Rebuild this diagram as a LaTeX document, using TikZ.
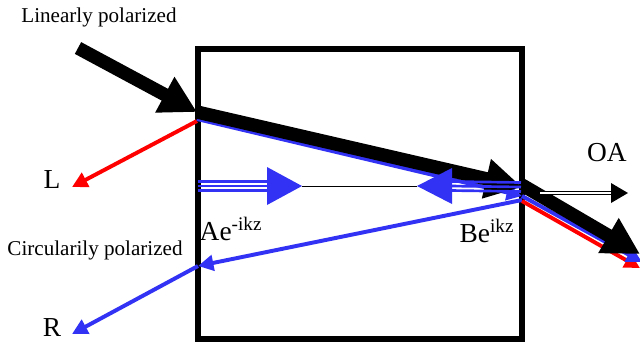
\documentclass[tikz,border=0pt]{standalone}
\usepackage{fontspec}
\setmainfont{Liberation Serif}
\usetikzlibrary{arrows.meta}

\definecolor{waveblue}{RGB}{50,50,245}

\begin{document}
\begin{tikzpicture}[
    x=0.025cm, y=-0.025cm,
    lab/.style={inner sep=0pt, font=\fontsize{15pt}{17pt}\selectfont},
    biglab/.style={inner sep=0pt, font=\fontsize{19.5pt}{21pt}\selectfont},
    beam/.style={line width=9.5pt, -{Triangle[length=26pt, width=27pt]}},
    thinred/.style={draw=red, line width=2.8pt, -{Triangle[length=11pt, width=11pt]}},
    thinblue/.style={draw=waveblue, line width=2.8pt, -{Triangle[length=11pt, width=11pt]}},
    wave/.style={draw=waveblue, line width=1.9pt},
    wavehead/.style={fill=waveblue, draw=none}
]

\useasboundingbox (0,0) rectangle (640,345);

% crystal
\node[draw, line width=4pt, minimum width=324*0.025cm, minimum height=290*0.025cm,
      inner sep=0pt] (cell) at (360,194) {};

% points on the crystal faces
\coordinate (start) at (78,48);
\coordinate (inleft) at (197,112);
\coordinate (inleftb) at (197,119);
\coordinate (inleftr) at (197,121);
\coordinate (outright) at (522,187);
\coordinate (outrightb) at (522,196);
\coordinate (outrightr) at (522,201);
\coordinate (backright) at (522,200);
\coordinate (backleft) at (198,266);
\coordinate (restart) at (522,185);
\coordinate (exit) at (640,254);
\coordinate (exitb) at (642,262);
\coordinate (exitr) at (640,268);
\coordinate (leftL) at (72,187);
\coordinate (leftR) at (72,334);
\coordinate (waveA) at (198,186);
\coordinate (waveB) at (521,187);
\coordinate (tipA) at (302,186);
\coordinate (tipB) at (417,186);
\coordinate (oaS) at (540,193);
\coordinate (oaE) at (628,193);

% labels
\node[lab] (linear) at (99,17) {Linearly polarized};
\node[lab] (circular) at (95,250) {Circularily polarized};
\node[biglab] (L) at (52,180) {L};
\node[biglab] (R) at (52,328) {R};
\node[biglab] (OA) at (607,153) {OA};
\node[biglab] (Aterm) at (231,229) {Ae\textsuperscript{-ikz}};
\node[biglab] (Bterm) at (487,231) {Be\textsuperscript{ikz}};

% thin lines
\draw[thinred] (inleftr) -- (leftL);
\draw[thinblue] (inleftb) -- (outrightb);
\draw[thinblue] (backright) -- (backleft);
\draw[thinblue] (backleft) -- (leftR);
\draw[thinred] (outrightr) -- (exitr);
\draw[thinblue] (outrightb) -- (exitb);

% main beams
\draw[beam] (start) -- (inleft);
\draw[beam] (inleft) -- (outright);
\draw[beam] (restart) -- (exit);

% optic axis
\draw[double, double distance=1.4pt, line width=0.9pt] (oaS) -- ([xshift=-10pt]oaE);
\fill (oaE) -- ++(-17,-10) -- ++(0,20) -- cycle;

% standing wave
\draw[line width=0.6pt] (tipA) -- (tipB);
\foreach \dy in {-3.2,0,3.2} {
  \draw[wave] ([yshift=\dy pt]waveA) -- ([xshift=-24pt,yshift=\dy pt]tipA);
  \draw[wave] ([yshift=\dy pt]waveB) -- ([xshift=24pt,yshift=\dy pt]tipB);
}
\fill[wavehead] (tipA) -- ++(-35,-19) -- ++(0,38) -- cycle;
\fill[wavehead] (tipB) -- ++(35,-18) -- ++(0,36) -- cycle;

\end{tikzpicture}
\end{document}
